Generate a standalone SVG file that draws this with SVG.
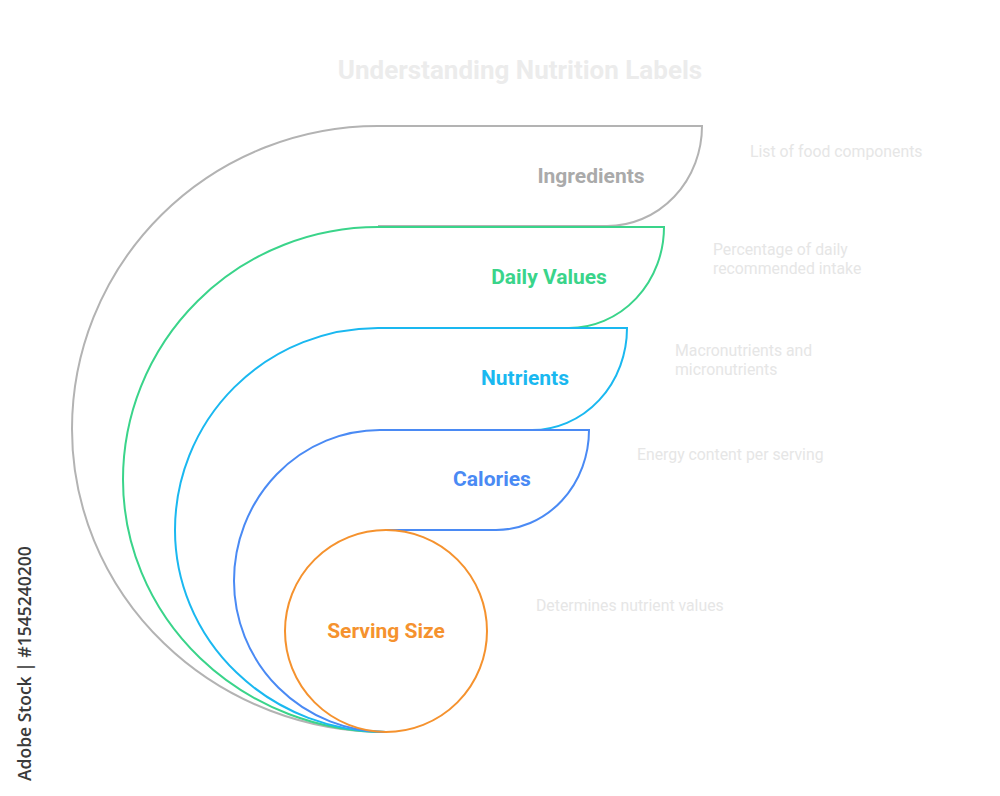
<svg xmlns="http://www.w3.org/2000/svg" width="1000" height="796" viewBox="0 0 1000 796">
<style>
.shape{fill:none;stroke-width:2}
.lbl{font-family:Roboto,"Liberation Sans",sans-serif;font-weight:bold;font-size:21px;text-anchor:middle}
.desc{font-family:Roboto,"Liberation Sans",sans-serif;font-size:15.8px;fill:#e6e6e6}
</style>
<rect width="1000" height="796" fill="#ffffff"/>
<text x="520" y="79" style="font-family:Roboto,'Liberation Sans',sans-serif;font-weight:bold;font-size:26px;fill:#ececec;text-anchor:middle">Understanding Nutrition Labels</text>
<g id="connectors"></g>
<g id="ingredients">
<path class="shape" stroke="#b3b3b3" d="M386,732 A314,303 0 0 1 72,429 A306,303 0 0 1 378,126 H702 A95,100 0 0 1 607,226 H378"/>
<text class="lbl" x="591" y="183" fill="#aaaaaa">Ingredients</text>
<text class="desc" x="750" y="157">List of food components</text>
</g>
<g id="daily-values">
<path class="shape" stroke="#3ad48a" d="M386,732 A263,252.5 0 0 1 123,479.5 A255,252.5 0 0 1 378,227 H664 A95,101 0 0 1 569,328 H378"/>
<text class="lbl" x="549" y="284" fill="#3ad48a">Daily Values</text>
<text class="desc" x="713" y="255">Percentage of daily</text>
<text class="desc" x="713" y="274">recommended intake</text>
</g>
<g id="nutrients">
<path class="shape" stroke="#1ab8f0" d="M386,732 A211,202 0 0 1 175,530 A203,202 0 0 1 378,328 H627 A95,102 0 0 1 532,430 H380"/>
<text class="lbl" x="525" y="385" fill="#1ab8f0">Nutrients</text>
<text class="desc" x="675" y="356">Macronutrients and</text>
<text class="desc" x="675" y="375">micronutrients</text>
</g>
<g id="calories">
<path class="shape" stroke="#4a8af4" d="M386,732 A152,151 0 0 1 234,581 A146,151 0 0 1 380,430 H589 A93,100 0 0 1 496,530 H386"/>
<text class="lbl" x="492" y="486" fill="#4a8af4">Calories</text>
<text class="desc" x="637" y="460">Energy content per serving</text>
</g>
<g id="serving-size">
<circle class="shape" stroke="#f5922e" cx="386" cy="631" r="101"/>
<text class="lbl" x="386" y="638" fill="#f5922e">Serving Size</text>
<text class="desc" x="536" y="611">Determines nutrient values</text>
</g>
<text transform="translate(31,781) rotate(-90)" style="font-family:'Open Sans','Noto Sans',sans-serif;font-weight:600;font-size:17.5px;fill:#3a3a3a">Adobe Stock | #1545240200</text>
</svg>
